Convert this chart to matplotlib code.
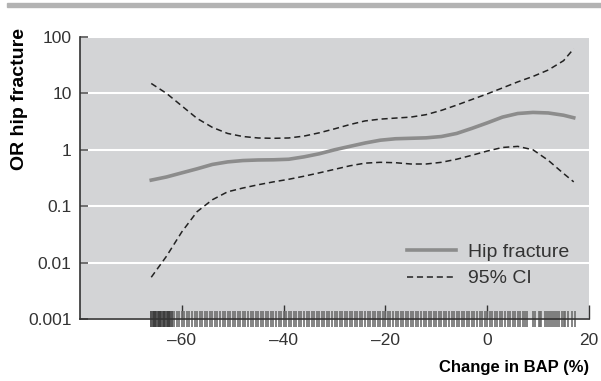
import numpy as np
import matplotlib.pyplot as plt
from matplotlib.patches import Rectangle
from matplotlib.lines import Line2D
import matplotlib.transforms as mtransforms

plt.rcParams['font.family'] = ['Liberation Sans', 'DejaVu Sans']

# change in BAP (%) and odds ratios read along the fitted spline
bap_change = [-66, -63, -60, -57, -54, -51, -48, -45, -42, -39, -36, -33, -30, -27, -24,
              -21, -18, -15, -12, -9, -6, -3, 0, 3, 6, 9, 12, 15, 17]
or_fit = [0.29, 0.33, 0.39, 0.46, 0.55, 0.61, 0.645, 0.66, 0.665, 0.68, 0.75, 0.85, 1.0, 1.15, 1.32,
          1.48, 1.57, 1.6, 1.63, 1.72, 1.95, 2.4, 3.0, 3.8, 4.4, 4.6, 4.5, 4.1, 3.7]
ci_upper = [15, 10, 6, 3.6, 2.5, 1.95, 1.72, 1.62, 1.6, 1.62, 1.75, 2.0, 2.35, 2.8, 3.25,
            3.5, 3.65, 3.8, 4.2, 5.0, 6.2, 7.8, 9.8, 12.5, 16, 20, 26, 38, 62]
ci_lower = [0.0055, 0.013, 0.035, 0.08, 0.13, 0.18, 0.21, 0.24, 0.27, 0.3, 0.34, 0.39, 0.45, 0.52, 0.58,
            0.6, 0.59, 0.56, 0.56, 0.6, 0.68, 0.8, 0.95, 1.1, 1.15, 1.0, 0.65, 0.38, 0.27]

# observed values (rug)
rug_dense = [-66.0, -65.75, -65.5, -65.25, -65.0, -64.75, -64.5, -64.25, -64.0, -63.75,
             -63.5, -63.25, -63.0, -62.75, -62.5, -62.25, -62.0]
rug_obs = [-61.5, -61.0, -60.5, -60.0, -59.5, -59.0, -58.5, -58.0, -57.5, -57.0,
           -56.5, -56.0, -55.5, -55.0, -54.5, -54.0, -53.5, -53.0, -52.5, -52.0,
           -51.5, -51.0, -50.5, -50.0, -49.5, -49.0, -48.5, -48.0, -47.5, -47.0,
           -46.5, -46.0, -45.5, -45.0, -44.5, -44.0, -43.5, -43.0, -42.5, -42.0,
           -41.5, -41.0, -40.5, -40.0, -39.5, -39.0, -38.5, -38.0, -37.5, -37.0,
           -36.5, -36.0, -35.5, -35.0, -34.5, -34.0, -33.5, -33.0, -32.5, -32.0,
           -31.5, -31.0, -30.5, -30.0, -29.5, -29.0, -28.5, -28.0, -27.5, -27.0,
           -26.5, -26.0, -25.5, -25.0, -24.5, -24.0, -23.5, -23.0, -22.5, -22.0,
           -21.5, -21.0, -20.5, -20.0, -19.5, -19.0, -18.5, -18.0, -17.5, -17.0,
           -16.5, -16.0, -15.5, -15.0, -14.5, -14.0, -13.5, -13.0, -12.5, -12.0,
           -11.5, -11.0, -10.5, -10.0, -9.5, -9.0, -8.5, -8.0, -7.5, -7.0,
           -6.5, -6.0, -5.5, -5.0, -4.5, -4.0, -3.5, -3.0, -2.5, -2.0,
           -1.5, -1.0, -0.5, 0.0, 0.5, 1.0, 1.5, 2.0, 2.5, 3.0,
           3.5, 4.0, 4.5, 5.0, 5.5, 6.0, 6.5, 7.0, 7.5, 7.8,
           8.9, 9.4, 10.2, 10.4, 10.6, 11.4, 11.8, 12.2, 12.6, 13.0,
           13.4, 13.8, 14.2, 14.6, 15.0, 15.3, 15.9, 16.7, 17.3]

fig = plt.figure(figsize=(6.01, 3.81), dpi=100)
fig.patches.append(Rectangle((7 / 601, 1 - 7.3 / 381), 1, 4.6 / 381,
                             transform=fig.transFigure, color='#b3b3b3', zorder=0))

ax = fig.add_axes([80 / 601, 62 / 381, 509 / 601, 282 / 381])
ax.set_facecolor('#d3d4d6')
ax.set_yscale('log')
ax.set_xlim(-80, 20)
ax.set_ylim(0.001, 100)

ax.yaxis.grid(True, which='major', color='white', linewidth=1.5)
ax.set_axisbelow(True)

ci_dash = (4, 2.5)
ax.plot(bap_change, or_fit, color='#8c8c8c', linewidth=2.6, zorder=3)
ax.plot(bap_change, ci_upper, color='#222222', linewidth=1.1, dashes=ci_dash, zorder=3)
ax.plot(bap_change, ci_lower, color='#222222', linewidth=1.1, dashes=ci_dash, zorder=3)

# rug along the x axis, straddling the spine
trans = mtransforms.blended_transform_factory(ax.transData, ax.transAxes)
ax.vlines(rug_obs, -0.03, 0.028, transform=trans, color='#6e6e6e', linewidth=1.2,
          clip_on=False, zorder=4)
ax.vlines(rug_dense, -0.03, 0.028, transform=trans, color='#3a3a3a', linewidth=1.2,
          clip_on=False, zorder=4)

for side in ['top', 'right']:
    ax.spines[side].set_visible(False)
for side in ['left', 'bottom']:
    ax.spines[side].set_color('#333333')
    ax.spines[side].set_linewidth(1.2)
ax.spines['bottom'].set_zorder(5)

ax.set_yticks([0.001, 0.01, 0.1, 1, 10, 100])
ax.set_yticklabels(['0.001', '0.01', '0.1', '1', '10', '100'])
ax.minorticks_off()
ax.set_xticks([-60, -40, -20, 0, 20])
ax.set_xticklabels(['\u201360', '\u201340', '\u201320', '0', '20'])
ax.tick_params(axis='y', direction='in', length=6, width=1.2, color='#555555',
               labelsize=12.5, labelcolor='#333333', pad=6)
ax.tick_params(axis='x', direction='in', length=10, width=1.0, color='#333333',
               labelsize=12.5, labelcolor='#333333', pad=10)

ax.set_ylabel('OR hip fracture', fontsize=14, fontweight='bold')
ax.yaxis.set_label_coords(-0.102, 0.78)
ax.set_xlabel('Change in BAP (%)', fontsize=12, fontweight='bold')
ax.xaxis.set_label_coords(1.0, -0.145)
ax.xaxis.label.set_horizontalalignment('right')

handles = [Line2D([], [], color='#8c8c8c', linewidth=2.6),
           Line2D([], [], color='#222222', linewidth=1.1, dashes=ci_dash)]
leg = ax.legend(handles, ['Hip fracture', '95% CI'], loc='lower right',
                bbox_to_anchor=(0.995, 0.05), frameon=False, fontsize=14,
                handlelength=2.5, handletextpad=0.6, labelspacing=0.45)
for t in leg.get_texts():
    t.set_color('#333333')

fig.savefig('out.png', dpi=100)
